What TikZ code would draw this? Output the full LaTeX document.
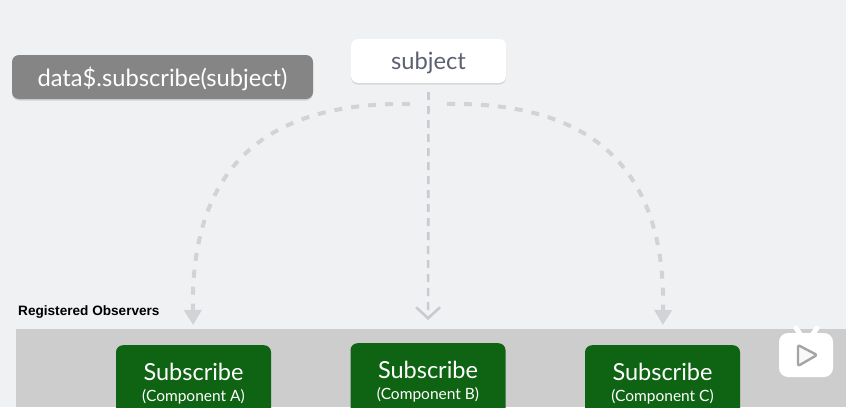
\documentclass[tikz,border=0pt]{standalone}
\usepackage{xcolor}
\usepackage{fontspec}
\setmainfont{Lato}
\newfontfamily\labelfont{Liberation Sans}
\usetikzlibrary{arrows.meta, shadows}
\definecolor{page}{HTML}{F0F1F3}
\definecolor{band}{HTML}{CDCDCD}
\definecolor{slate}{HTML}{858585}
\definecolor{ink}{HTML}{5C6070}
\definecolor{forest}{HTML}{0F6414}
\definecolor{wire}{HTML}{D2D3D6}
\definecolor{wiredark}{HTML}{C9CAD2}
\newcommand{\sublabel}{\fontsize{15.5}{20}\selectfont}

\begin{document}
\begin{tikzpicture}[
  x=1pt, y=-1pt,
  callbox/.style={
    rectangle, rounded corners=7pt, minimum height=44pt, align=center,
    font=\fontsize{23.7}{28}\selectfont, inner sep=0pt,
  },
  observer/.style={
    rectangle, fill=forest, rounded corners=7pt, anchor=north, minimum width=155pt,
    text=white, align=center, inner xsep=0pt, inner ysep=18pt,
    font=\fontsize{23.5}{21}\selectfont,
  },
  wirecurve/.style={
    draw=wire, line width=4pt, dash pattern=on 8pt off 9pt, shorten >=20pt,
    -{Triangle[length=15pt,width=17pt,fill=wire]},
  },
  wireline/.style={
    draw=wiredark, line width=2.6pt, dash pattern=on 8pt off 6pt,
    shorten <=9pt, shorten >=23pt,
    -{Straight Barb[length=11pt,width=24pt,line width=2.6pt]},
  },
]
  \useasboundingbox (0,0) rectangle (846,407);
  \clip (0,0) rectangle (846,407);
  \fill[page] (0,0) rectangle (846,407);
  \fill[band] (16,329) rectangle (846,407);

  \node[callbox, fill=slate, text=white, minimum width=301pt, text depth=1pt,
        drop shadow={shadow xshift=0pt, shadow yshift=-1.5pt, opacity=.25}] (call) at (162.5,77) {data\$.subscribe(subject)};
  \node[callbox, fill=white, text=ink, minimum width=155pt, text depth=0pt,
        drop shadow={shadow xshift=0pt, shadow yshift=-1.5pt, opacity=.25}] (subject) at (428.5,61) {subject};
  \node[anchor=west, inner sep=0pt, font=\labelfont\fontsize{13.6}{15}\selectfont\bfseries] (registered) at (18,312) {Registered Observers};

  \node[observer] (subA) at (193.5,345) {Subscribe\\{\sublabel (Component A)}};
  \node[observer] (subB) at (428,343) {Subscribe\\{\sublabel (Component B)}};
  \node[observer] (subC) at (662.5,345) {Subscribe\\{\sublabel (Component C)}};

  \coordinate (tapA) at (410,104);
  \coordinate (tapC) at (447,104);

  \draw[wirecurve] (tapA) .. controls (285,102) and (190,150) .. (subA.north);
  \draw[wireline] (subject.south) -- (subB.north);
  \draw[wirecurve] (tapC) .. controls (571,102) and (666,150) .. (subC.north);

  % badge in the corner
  \draw[white, line width=5pt, line cap=round] (796,328) -- (802,337) (817,328) -- (811,337);
  \fill[white, rounded corners=9pt] (779,333) rectangle (833,377);
  \draw[band!80!black, fill=white!85!band, line width=2.4pt, line join=round, rounded corners=2pt] (798,345) -- (817,355) -- (798,366) -- cycle;
\end{tikzpicture}
\end{document}
